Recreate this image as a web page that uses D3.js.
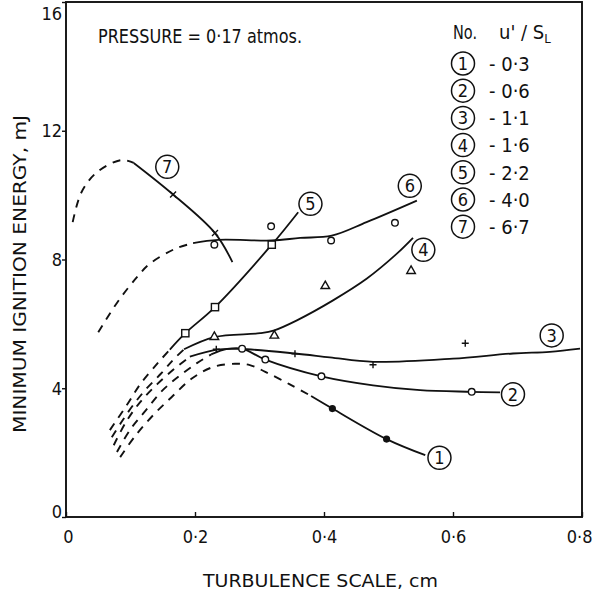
<!DOCTYPE html>
<html><head><meta charset="utf-8">
<script src="https://cdn.jsdelivr.net/npm/d3@7"></script>
<style>
body{margin:0;background:#fff}
text{font-family:"DejaVu Sans Condensed","Liberation Sans Narrow","Liberation Sans",sans-serif;fill:#111}
</style>
</head><body><svg id="c" width="593" height="597"></svg>
<script>
// ---------- DATA ----------
const xTicks = [0, 0.2, 0.4, 0.6, 0.8];
const xTickLabels = ["0", "0·2", "0·4", "0·6", "0·8"];
const yTicks = [0, 4, 8, 12, 16];
const yTickLabels = ["0", "4", "8", "12", "16"];

const curveNumbers = ["1", "2", "3", "4", "5", "6", "7"];
const uSL = ["0·3", "0·6", "1·1", "1·6", "2·2", "4·0", "6·7"];

// curve 1 (u'/SL = 0.3)
const c1Dashed = [[0.084,1.86],[0.107,2.51],[0.135,3.16],[0.164,3.73],[0.195,4.30],[0.228,4.66],[0.262,4.76],[0.285,4.72],[0.309,4.51],[0.347,4.12],[0.38,3.76]];
const c1Solid = [[0.38,3.76],[0.413,3.37],[0.497,2.42],[0.557,1.92]];
const c1Points = [[0.413,3.37],[0.497,2.42]];
// curve 2 (0.6)
const c2Dashed = [[0.079,2.02],[0.099,2.70],[0.124,3.32],[0.150,3.94],[0.177,4.40],[0.203,4.78],[0.225,5.05]];
const c2Solid = [[0.225,5.05],[0.250,5.22],[0.273,5.23],[0.309,4.89],[0.396,4.37],[0.476,4.09],[0.549,3.94],[0.629,3.89],[0.673,3.87]];
const c2Points = [[0.273,5.23],[0.309,4.89],[0.396,4.37],[0.629,3.89]];
// curve 3 (1.1)
const c3Dashed = [[0.074,2.23],[0.093,2.95],[0.115,3.57],[0.141,4.12],[0.169,4.62],[0.192,4.98]];
const c3Solid = [[0.192,4.98],[0.234,5.20],[0.27,5.22],[0.355,5.08],[0.409,4.96],[0.476,4.82],[0.60,4.92],[0.693,5.08],[0.75,5.13],[0.797,5.23]];
const c3Points = [[0.233,5.21],[0.355,5.07],[0.476,4.73],[0.619,5.40]];
// curve 4 (1.6)
const c4Dashed = [[0.071,2.48],[0.086,2.95],[0.103,3.45],[0.124,3.97],[0.147,4.45],[0.166,4.88],[0.183,5.21]];
const c4Solid = [[0.183,5.21],[0.230,5.59],[0.301,5.71],[0.323,5.80],[0.358,6.11],[0.414,6.73],[0.466,7.40],[0.513,8.18],[0.538,8.67]];
const c4Points = [[0.230,5.61],[0.323,5.65],[0.402,7.19],[0.535,7.66]];
// curve 5 (2.2)
const c5Dashed = [[0.068,2.70],[0.094,3.47],[0.116,4.15],[0.143,4.80],[0.161,5.20]];
const c5Solid = [[0.161,5.20],[0.185,5.71],[0.231,6.52],[0.319,8.46],[0.36,9.47]];
const c5Points = [[0.185,5.71],[0.231,6.52],[0.319,8.46]];
// curve 6 (4.0)
const c6Dashed = [[0.05,5.74],[0.08,6.68],[0.11,7.45],[0.13,7.87],[0.169,8.33],[0.197,8.51]];
const c6Solid = [[0.197,8.51],[0.236,8.61],[0.319,8.59],[0.363,8.67],[0.412,8.74],[0.466,9.16],[0.544,9.83]];
const c6Points = [[0.230,8.46],[0.318,9.03],[0.411,8.59],[0.510,9.14]];
// curve 7 (6.7)
const c7Dashed = [[0.0104,9.16],[0.024,10.09],[0.048,10.71],[0.086,11.09],[0.105,11.0]];
const c7Solid = [[0.105,11.0],[0.166,10.02],[0.231,8.82],[0.258,7.92]];
const c7Points = [[0.166,10.02],[0.231,8.82]];

// circled curve labels (data coords)
const labelPos = [[0.579,1.84],[0.693,3.81],[0.753,5.64],[0.554,8.30],[0.379,9.73],[0.533,10.29],[0.157,10.88]];

const markerTypes = ["dot","circle","plus","triangle","square","circle","times"];

// ---------- CHART ----------
const svg = d3.select("#c");
const x = d3.scaleLinear().domain([0, 0.8]).range([66, 582]);
const y = d3.scaleLinear().domain([0, 16]).range([517, 2]);

const series = [
  {d:c1Dashed, s:c1Solid, p:c1Points},
  {d:c2Dashed, s:c2Solid, p:c2Points},
  {d:c3Dashed, s:c3Solid, p:c3Points},
  {d:c4Dashed, s:c4Solid, p:c4Points},
  {d:c5Dashed, s:c5Solid, p:c5Points},
  {d:c6Dashed, s:c6Solid, p:c6Points},
  {d:c7Dashed, s:c7Solid, p:c7Points}
];

// frame
svg.append("rect").attr("x", x(0)).attr("y", y(16)).attr("width", x(0.8)-x(0)).attr("height", y(0)-y(16))
  .attr("fill","none").attr("stroke","#111").attr("stroke-width",1.9);

// axes
const gx = svg.append("g").attr("transform", `translate(0,${y(0)})`)
  .call(d3.axisBottom(x).tickValues(xTicks).tickSizeInner(-5).tickSizeOuter(0).tickPadding(13)
    .tickFormat((d,i)=>xTickLabels[i]));
gx.select(".domain").remove();
gx.selectAll("text").attr("font-size",18)
  .attr("text-anchor", d => d===0.8 ? "end" : "middle")
  .attr("dx", d => d===0.8 ? 10 : (d===0 ? 2 : 0));
gx.selectAll("line").attr("stroke","#111").attr("stroke-width",1.4);

const gy = svg.append("g").attr("transform", `translate(${x(0)},0)`)
  .call(d3.axisLeft(y).tickValues(yTicks).tickSizeInner(4).tickSizeOuter(0).tickPadding(0)
    .tickFormat((d,i)=>yTickLabels[i]));
gy.select(".domain").remove();
gy.selectAll("text").attr("font-size",18)
  .attr("dy", d => d===16 ? "0.95em" : (d===0 ? "0.05em" : "0.32em"));
gy.selectAll("line").attr("stroke","#111").attr("stroke-width",1.4);

// lines
const line = d3.line().x(d=>x(d[0])).y(d=>y(d[1])).curve(d3.curveCatmullRom.alpha(0.5));
const gl = svg.append("g").attr("fill","none").attr("stroke","#111");
series.forEach(sr => {
  gl.append("path").attr("d", line(sr.d)).attr("stroke-width",1.9).attr("stroke-dasharray","8,7");
  gl.append("path").attr("d", line(sr.s)).attr("stroke-width",1.8);
});

// markers
const gm = svg.append("g");
series.forEach((sr, i) => {
  const t = markerTypes[i];
  sr.p.forEach(pt => {
    const cx = x(pt[0]), cy = y(pt[1]);
    if (t === "dot") {
      gm.append("circle").attr("cx",cx).attr("cy",cy).attr("r",3.6).attr("fill","#111");
    } else if (t === "circle") {
      gm.append("circle").attr("cx",cx).attr("cy",cy).attr("r",3.3).attr("fill","#fff").attr("stroke","#111").attr("stroke-width",1.4);
    } else if (t === "square") {
      gm.append("rect").attr("x",cx-3.6).attr("y",cy-3.6).attr("width",7.2).attr("height",7.2).attr("fill","#fff").attr("stroke","#111").attr("stroke-width",1.4);
    } else if (t === "triangle") {
      gm.append("path").attr("d",`M${cx},${cy-4.5}L${cx+4.3},${cy+3}L${cx-4.3},${cy+3}Z`).attr("fill","#fff").attr("stroke","#111").attr("stroke-width",1.4);
    } else if (t === "plus") {
      gm.append("path").attr("d",`M${cx-3.5},${cy}H${cx+3.5}M${cx},${cy-3.5}V${cy+3.5}`).attr("stroke","#111").attr("stroke-width",1.4);
    } else if (t === "times") {
      gm.append("path").attr("d",`M${cx-3},${cy-3}L${cx+3},${cy+3}M${cx-3},${cy+3}L${cx+3},${cy-3}`).attr("stroke","#111").attr("stroke-width",1.4);
    }
  });
});

// circled labels on curves
const gLab = svg.append("g");
labelPos.forEach((p, i) => {
  const cx = x(p[0]), cy = y(p[1]);
  gLab.append("circle").attr("cx",cx).attr("cy",cy).attr("r",11.5).attr("fill","#fff").attr("stroke","#111").attr("stroke-width",1.5);
  gLab.append("text").attr("x",cx).attr("y",cy).attr("dy","0.36em").attr("text-anchor","middle").attr("font-size",18).text(curveNumbers[i]);
});

// pressure note
svg.append("text").attr("x",98).attr("y",43).attr("font-size",19)
  .attr("textLength",204).attr("lengthAdjust","spacingAndGlyphs").text("PRESSURE = 0·17 atmos.");

// legend
const lg = svg.append("g");
lg.append("text").attr("x",453).attr("y",39).attr("font-size",19).attr("textLength",24).attr("lengthAdjust","spacingAndGlyphs").text("No.");
const hdr = lg.append("text").attr("x",499).attr("y",39).attr("font-size",20);
hdr.append("tspan").text("u' / S");
hdr.append("tspan").attr("dy",4).attr("font-size",13).text("L");
curveNumbers.forEach((n, i) => {
  const cy = 63.5 + i*27.2;
  lg.append("circle").attr("cx",463).attr("cy",cy).attr("r",11.5).attr("fill","#fff").attr("stroke","#111").attr("stroke-width",1.5);
  lg.append("text").attr("x",463).attr("y",cy).attr("dy","0.36em").attr("text-anchor","middle").attr("font-size",18).text(n);
  lg.append("text").attr("x",489).attr("y",cy).attr("dy","0.36em").attr("font-size",20).text("- " + uSL[i]);
});

// axis titles
svg.append("text").attr("x",203).attr("y",587).attr("font-size",18)
  .attr("textLength",235).attr("lengthAdjust","spacingAndGlyphs").text("TURBULENCE  SCALE, cm");
svg.append("text").attr("transform","translate(26,274) rotate(-90)").attr("text-anchor","middle").attr("font-size",18)
  .attr("textLength",318).attr("lengthAdjust","spacingAndGlyphs").text("MINIMUM  IGNITION  ENERGY, mJ");
</script></body></html>
